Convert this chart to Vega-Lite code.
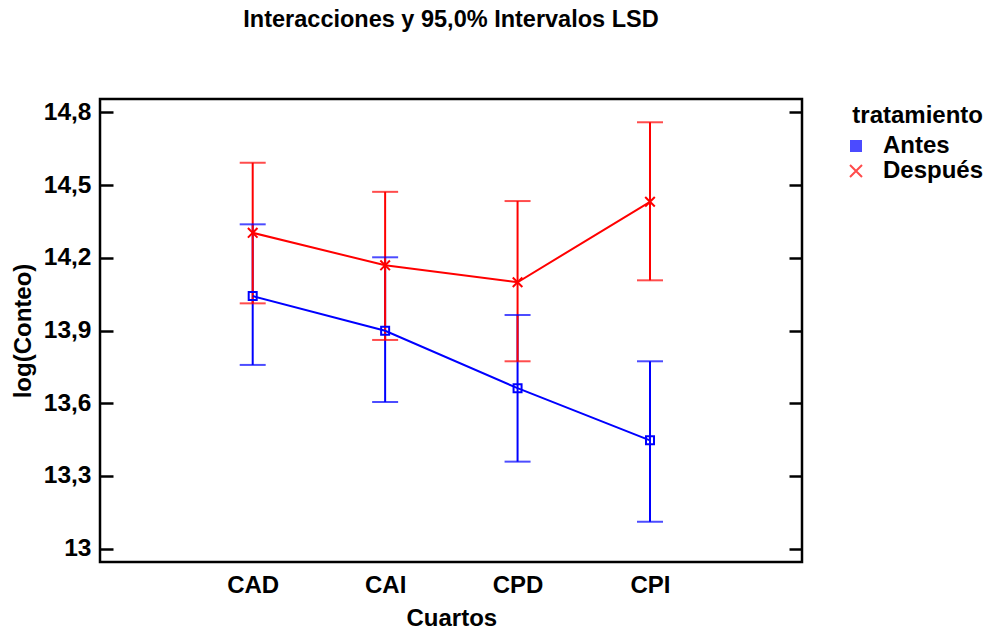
{
  "$schema": "https://vega.github.io/schema/vega-lite/v6.json",
  "width": 702,
  "height": 463,
  "autosize": {"type": "none"},
  "padding": {"left": 100, "top": 99, "right": 193, "bottom": 68},
  "background": "white",
  "title": {"text": "Interacciones y 95,0% Intervalos LSD", "fontSize": 23.5, "font": "Liberation Sans", "fontWeight": "bold", "anchor": "middle", "baseline": "alphabetic", "offset": 49, "color": "black"},
  "config": {
    "view": {"stroke": "black", "strokeWidth": 2.5},
    "font": "Liberation Sans",
    "axis": {"labelFont": "Liberation Sans", "titleFont": "Liberation Sans", "labelColor": "black", "titleColor": "black", "grid": false}
  },
  "data": {
    "values": [
      {"Cuarto": "CAD", "tratamiento": "Antes", "media": 14.042, "inferior": 13.758, "superior": 14.338},
      {"Cuarto": "CAI", "tratamiento": "Antes", "media": 13.899, "inferior": 13.605, "superior": 14.202},
      {"Cuarto": "CPD", "tratamiento": "Antes", "media": 13.662, "inferior": 13.359, "superior": 13.964},
      {"Cuarto": "CPI", "tratamiento": "Antes", "media": 13.447, "inferior": 13.111, "superior": 13.773},
      {"Cuarto": "CAD", "tratamiento": "Después", "media": 14.303, "inferior": 14.012, "superior": 14.592},
      {"Cuarto": "CAI", "tratamiento": "Después", "media": 14.169, "inferior": 13.861, "superior": 14.472},
      {"Cuarto": "CPD", "tratamiento": "Después", "media": 14.099, "inferior": 13.773, "superior": 14.434},
      {"Cuarto": "CPI", "tratamiento": "Después", "media": 14.431, "inferior": 14.107, "superior": 14.759}
    ]
  },
  "encoding": {
    "x": {
      "field": "Cuarto", "type": "nominal", "sort": null,
      "scale": {"type": "point", "range": [152.7, 550], "padding": 0},
      "axis": {"title": "Cuartos", "labelAngle": 0, "ticks": false, "domain": false, "labelPadding": 11, "labelFontSize": 24, "labelFontWeight": "bold", "titleFontSize": 24, "titleFontWeight": "bold", "titlePadding": 9}
    },
    "color": {
      "field": "tratamiento", "type": "nominal",
      "scale": {"domain": ["Antes", "Después"], "range": ["#0000FF", "#FF0000"]},
      "legend": {
        "orient": "none", "legendX": 744, "legendY": 5, "padding": 0,
        "title": "tratamiento", "titleFontSize": 24, "titleFontWeight": "bold", "titleColor": "black", "titleFont": "Liberation Sans", "titleAnchor": "end", "titlePadding": 6,
        "labelFontSize": 24, "labelFontWeight": "bold", "labelColor": "black", "labelFont": "Liberation Sans", "labelOffset": 15,
        "symbolSize": 100, "rowPadding": 1, "symbolStrokeWidth": 2
      }
    }
  },
  "layer": [
    {
      "mark": {"type": "rule", "strokeWidth": 2},
      "encoding": {
        "y": {"field": "inferior", "type": "quantitative", "scale": {"domain": [12.945, 14.855], "nice": false, "zero": false},
          "axis": {"orient": "left", "values": [13, 13.3, 13.6, 13.9, 14.2, 14.5, 14.8], "labelExpr": "replace(format(datum.value, '~g'), '.', ',')", "tickSize": -13, "tickWidth": 2.5, "tickColor": "black", "domain": false, "labelPadding": 22, "labelFontSize": 24.5, "labelFontWeight": "bold", "title": "log(Conteo)", "titleFontSize": 24, "titleFontWeight": "bold", "titlePadding": 8}},
        "y2": {"field": "superior"}
      }
    },
    {
      "mark": {"type": "tick", "thickness": 2, "size": 26},
      "encoding": {
        "y": {"field": "superior", "type": "quantitative",
          "axis": {"orient": "right", "values": [13, 13.3, 13.6, 13.9, 14.2, 14.5, 14.8], "labels": false, "tickSize": -13, "tickWidth": 2.5, "tickColor": "black", "domain": false, "title": null}}
      }
    },
    {
      "mark": {"type": "tick", "thickness": 2, "size": 26},
      "encoding": {
        "y": {"field": "inferior", "type": "quantitative", "axis": null}
      }
    },
    {
      "mark": {"type": "line", "strokeWidth": 2},
      "encoding": {
        "y": {"field": "media", "type": "quantitative", "axis": null}
      }
    },
    {
      "mark": {"type": "point", "filled": false, "strokeWidth": 2, "opacity": 1},
      "encoding": {
        "y": {"field": "media", "type": "quantitative", "axis": null},
        "shape": {"field": "tratamiento", "type": "nominal", "legend": null,
          "scale": {"domain": ["Antes", "Después"], "range": ["square", "M-1.2,-1.2L1.2,1.2M-1.2,1.2L1.2,-1.2"]}},
        "size": {"value": 64}
      }
    }
  ],
  "resolve": {"axis": {"y": "independent"}}
}
